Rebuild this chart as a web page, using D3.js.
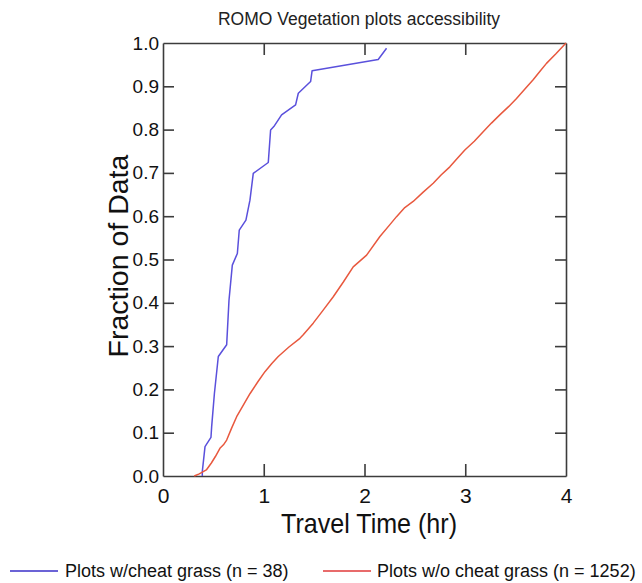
<!DOCTYPE html>
<html><head><meta charset="utf-8">
<script src="https://cdn.jsdelivr.net/npm/d3@7"></script>
<style>
html,body{margin:0;padding:0;background:#fff;}
svg{display:block;font-family:"Liberation Sans",Arial,sans-serif;}
</style></head>
<body>
<svg id="chart" width="642" height="583"></svg>
<script>
const title = "ROMO Vegetation plots accessibility";
const xLabel = "Travel Time (hr)";
const yLabel = "Fraction of Data";
const xTicks = [0, 1, 2, 3, 4];
const yTicks = [0, 0.1, 0.2, 0.3, 0.4, 0.5, 0.6, 0.7, 0.8, 0.9, 1.0];
const seriesNames = ["Plots w/cheat grass (n = 38)", "Plots w/o cheat grass (n = 1252)"];

const cheatX = [0.39,0.39,0.417,0.476,0.483,0.51,0.549,0.632,0.655,0.688,0.738,0.757,0.823,0.863,0.896,1.045,1.068,1.10,1.177,1.316,1.343,1.465,1.48,2.136,2.219];
const cheatY = [0.0,0.01,0.068,0.089,0.114,0.19,0.276,0.303,0.406,0.487,0.514,0.568,0.591,0.637,0.699,0.724,0.799,0.807,0.834,0.857,0.884,0.911,0.936,0.962,0.988];

const noCheatX = [0.31,0.36,0.43,0.48,0.52,0.565,0.6,0.632,0.68,0.731,0.8,0.863,0.94,1.012,1.08,1.144,1.25,1.359,1.392,1.491,1.59,1.69,1.79,1.888,2.021,2.153,2.25,2.318,2.40,2.483,2.58,2.682,2.76,2.847,2.92,2.996,3.09,3.178,3.26,3.343,3.43,3.509,3.59,3.674,3.74,3.806,3.9,4.0];
const noCheatY = [0.0,0.005,0.014,0.03,0.045,0.064,0.072,0.083,0.11,0.137,0.165,0.19,0.217,0.241,0.26,0.276,0.298,0.318,0.326,0.353,0.383,0.414,0.448,0.483,0.51,0.553,0.58,0.599,0.62,0.634,0.655,0.676,0.695,0.714,0.733,0.753,0.773,0.795,0.815,0.834,0.853,0.872,0.893,0.915,0.934,0.953,0.975,1.0];

const colors = ["#5a50dc", "#e8583e"];
const legendColors = ["#3a2fc8", "#e03a3a"];

const svg = d3.select("#chart");
const L = 163, R = 566, T = 43, B = 476;
const x = d3.scaleLinear().domain([0, 4]).range([L, R]);
const y = d3.scaleLinear().domain([0, 1]).range([B, T]);
const axisColor = "#3c3c3c";

// title
svg.append("text").attr("x", 359).attr("y", 25).attr("text-anchor", "middle")
  .attr("font-size", 17.5).attr("fill", "#222").text(title);

// axes with inward ticks
const gB = svg.append("g").attr("transform", `translate(0,${B})`)
  .call(d3.axisBottom(x).tickValues(xTicks).tickSizeInner(-12).tickSizeOuter(0).tickFormat(d3.format("d")));
const gT = svg.append("g").attr("transform", `translate(0,${T})`)
  .call(d3.axisTop(x).tickValues(xTicks).tickSizeInner(-12).tickSizeOuter(0).tickFormat(""));
const gL = svg.append("g").attr("transform", `translate(${L},0)`)
  .call(d3.axisLeft(y).tickValues(yTicks).tickSizeInner(-11).tickSizeOuter(0).tickFormat(d3.format(".1f")));
const gR = svg.append("g").attr("transform", `translate(${R},0)`)
  .call(d3.axisRight(y).tickValues(yTicks).tickSizeInner(-11).tickSizeOuter(0).tickFormat(""));

[gB, gT, gL, gR].forEach(g => {
  g.selectAll(".domain").attr("stroke", axisColor).attr("stroke-width", 1.6);
  g.selectAll(".tick line").attr("stroke", axisColor).attr("stroke-width", 1.6);
});
gB.selectAll(".tick text").attr("font-size", 21).attr("fill", "#111").attr("dy", 0).attr("y", 27)
  .attr("font-family", "Liberation Sans, Arial, sans-serif");
gL.selectAll(".tick text").attr("font-size", 19).attr("fill", "#111").attr("x", -4)
  .attr("font-family", "Liberation Sans, Arial, sans-serif");
// remove end ticks that coincide with frame corners
gB.selectAll(".tick").filter(d => d === 0 || d === 4).select("line").remove();
gT.selectAll(".tick").filter(d => d === 0 || d === 4).select("line").remove();
gL.selectAll(".tick").filter(d => d === 0 || d === 1).select("line").remove();
gR.selectAll(".tick").filter(d => d === 0 || d === 1).select("line").remove();

// axis titles
svg.append("text").attr("x", 369).attr("y", 533).attr("text-anchor", "middle")
  .attr("font-size", 28).attr("fill", "#111")
  .attr("textLength", 176).attr("lengthAdjust", "spacingAndGlyphs").text(xLabel);
svg.append("text").attr("transform", "translate(128,256) rotate(-90)").attr("text-anchor", "middle")
  .attr("font-size", 28.5).attr("fill", "#111").text(yLabel);

// lines
const line = d3.line().x(d => x(d[0])).y(d => y(d[1]));
const series = [
  d3.zip(cheatX, cheatY),
  d3.zip(noCheatX, noCheatY)
];
series.forEach((s, i) => {
  svg.append("path").datum(s).attr("d", line).attr("fill", "none")
    .attr("stroke", colors[i]).attr("stroke-width", 1.5).attr("stroke-linejoin", "round");
});

// legend
const legendItems = [
  {lx1: 10, lx2: 58, tx: 65},
  {lx1: 323, lx2: 371, tx: 377}
];
legendItems.forEach((it, i) => {
  svg.append("line").attr("x1", it.lx1).attr("x2", it.lx2).attr("y1", 571).attr("y2", 571)
    .attr("stroke", legendColors[i]).attr("stroke-width", 1.6);
  svg.append("text").attr("x", it.tx).attr("y", 577).attr("font-size", 18).attr("fill", "#111")
    .text(seriesNames[i]);
});
</script>
</body></html>
